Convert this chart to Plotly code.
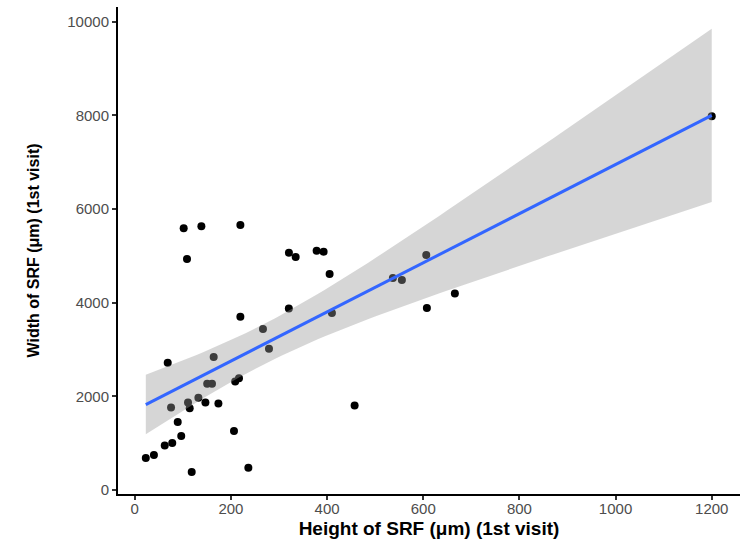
import numpy as np
import plotly.graph_objects as go

# SRF height (x) and width (y), 1st visit
height_um = [101.8, 138.6, 219.7, 108.7, 320.7, 334.7, 378.3, 392.8, 405.3, 606.3,
             536.9, 555.6, 665.8, 607.6, 320.5, 410.1, 219.7, 266.7, 279.2, 68.6,
             164.2, 150.7, 160.7, 208.9, 216.8, 75.5, 110.8, 132.4, 114.3, 147.0,
             174.0, 89.4, 96.7, 206.4, 62.4, 78.0, 23.0, 39.9, 118.5, 236.3,
             457.3, 1200.0]
width_um = [5587, 5630, 5660, 4933, 5067, 4975, 5110, 5089, 4612, 5018,
            4526, 4484, 4197, 3885, 3876, 3778, 3699, 3436, 3014, 2715,
            2837, 2266, 2266, 2316, 2388, 1760, 1867, 1967, 1747, 1867,
            1845, 1454, 1155, 1262, 951, 1005, 684, 748, 385, 477,
            1802, 7982]

x_ticks = [0, 200, 400, 600, 800, 1000, 1200]
y_ticks = [0, 2000, 4000, 6000, 8000, 10000]

x = np.array(height_um, dtype=float)
y = np.array(width_um, dtype=float)
n = len(x)

# linear model with 95% confidence band (like geom_smooth(method = "lm"))
b1, b0 = np.polyfit(x, y, 1)
resid = y - (b0 + b1 * x)
s = np.sqrt(np.sum(resid ** 2) / (n - 2))
sxx = np.sum((x - x.mean()) ** 2)
t_crit = 2.0211  # t(0.975, df=40)
xs = np.linspace(x.min(), x.max(), 80)
fit = b0 + b1 * xs
se = s * np.sqrt(1.0 / n + (xs - x.mean()) ** 2 / sxx)
lo = fit - t_crit * se
hi = fit + t_crit * se

fig = go.Figure()
fig.add_trace(go.Scatter(x=x, y=y, mode="markers",
                         marker=dict(color="black", size=8, line=dict(width=0)),
                         showlegend=False, hoverinfo="skip"))
fig.add_trace(go.Scatter(x=xs, y=lo, mode="lines", line=dict(width=0),
                         showlegend=False, hoverinfo="skip"))
fig.add_trace(go.Scatter(x=xs, y=hi, mode="lines", line=dict(width=0),
                         fill="tonexty", fillcolor="rgba(153,153,153,0.4)",
                         showlegend=False, hoverinfo="skip"))
fig.add_trace(go.Scatter(x=xs, y=fit, mode="lines",
                         line=dict(color="#3366FF", width=3),
                         showlegend=False, hoverinfo="skip"))

font_family = "Liberation Sans, Arial, sans-serif"
fig.update_layout(
    width=750, height=548,
    margin=dict(l=118, r=10, t=7, b=54),
    paper_bgcolor="white", plot_bgcolor="white",
    font=dict(family=font_family),
)
fig.update_xaxes(
    range=[-34.8, 1258.8], tickvals=x_ticks, ticktext=[str(v) for v in x_ticks],
    showgrid=False, zeroline=False,
    showline=True, linecolor="black", linewidth=2,
    ticks="outside", ticklen=4, tickwidth=1.5, tickcolor="#333333",
    ticklabelstandoff=-4,
    tickfont=dict(size=15, color="#4d4d4d", family=font_family),
    title=dict(text="<b>Height of SRF (μm) (1st visit)</b>",
               font=dict(size=19, color="black", family=font_family), standoff=6),
)
fig.update_yaxes(
    range=[-86, 10314], tickvals=y_ticks, ticktext=[str(v) for v in y_ticks],
    showgrid=False, zeroline=False,
    showline=True, linecolor="black", linewidth=2,
    ticks="outside", ticklen=4, tickwidth=1.5, tickcolor="#333333",
    tickfont=dict(size=15, color="#4d4d4d", family=font_family),
    title=dict(text="<b>Width of SRF (μm) (1st visit)</b>",
               font=dict(size=16, color="black", family=font_family), standoff=24),
)

fig.write_html("out.html")
